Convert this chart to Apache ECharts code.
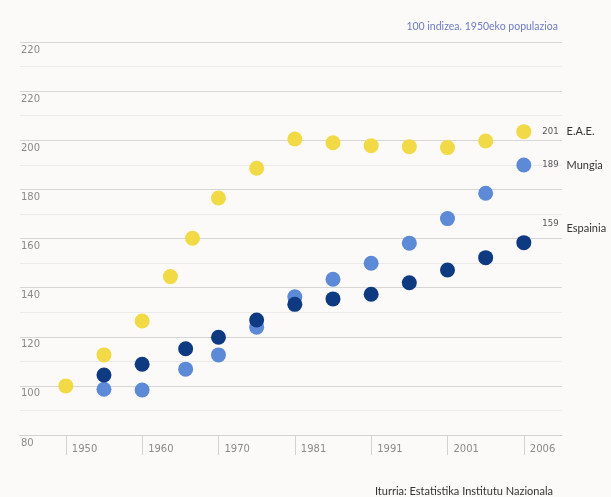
<!DOCTYPE html>
<html>
<head>
<meta charset="utf-8">
<script src="https://cdn.jsdelivr.net/npm/echarts@6/dist/echarts.min.js"></script>
<style>
  html, body { margin: 0; padding: 0; background: #fcfaf8; }
  #chart { width: 611px; height: 497px; }
</style>
</head>
<body>
<div id="chart"></div>
<script>
// ---- data ----
const xTickLabels = ['1950', '1960', '1970', '1981', '1991', '2001', '2006'];
const yTickLabels = ['80', '100', '120', '140', '160', '180', '200', '220', '220'];

// time position along the axis (1 unit = one labelled period)
const eaeT = [0, 0.5, 1, 1.37, 1.66, 2, 2.5, 3, 3.5, 4, 4.5, 5, 5.5, 6];
const eaeV = [100, 112.6, 126.4, 144.5, 160.1, 176.5, 188.6, 200.5, 199.0, 197.8, 197.4, 197.0, 199.7, 203.5];

const mungiaT = [0.5, 1, 1.57, 2, 2.5, 3, 3.5, 4, 4.5, 5, 5.5, 6];
const mungiaV = [98.6, 98.3, 106.8, 112.6, 123.9, 136.3, 143.4, 149.9, 158.1, 168.1, 178.4, 189.9];

const espainiaT = [0.5, 1, 1.57, 2, 2.5, 3, 3.5, 4, 4.5, 5, 5.5, 6];
const espainiaV = [104.4, 108.8, 115.1, 119.8, 126.8, 133.2, 135.4, 137.3, 142.0, 147.2, 152.2, 158.3];

const seriesNames = ['E.A.E.', 'Mungia', 'Espainia'];
const endValues = ['201', '189', '159'];

const subtitleText = '100 indizea. 1950eko populazioa';
const sourceText = 'Iturria: Estatistika Institutu Nazionala';

// ---- build ----
function buildData(ts, vs, idx, labelOffsetY, numRaise) {
  return ts.map((t, i) => {
    if (i < ts.length - 1) return [t, vs[i]];
    return {
      value: [t, vs[i]],
      label: {
        show: true,
        position: 'right',
        distance: 11,
        offset: [0, labelOffsetY],
        formatter: '{n|' + endValues[idx] + '}{s|' + seriesNames[idx] + '}',
        rich: {
          n: {
            fontFamily: 'DejaVu Sans', fontSize: 8.5, color: '#555',
            lineHeight: 14, verticalAlign: 'middle',
            padding: [0, 8, numRaise, 0]
          },
          s: {
            fontFamily: 'Lato', fontSize: 11, color: '#333',
            lineHeight: 14, verticalAlign: 'middle'
          }
        }
      }
    };
  });
}

const chart = echarts.init(document.getElementById('chart'), null, { renderer: 'canvas' });
chart.setOption({
  backgroundColor: '#fcfaf8',
  animation: false,
  title: [
    {
      text: subtitleText,
      right: 48, top: 16,
      textStyle: { fontFamily: 'Lato', fontSize: 10.5, fontWeight: 'normal', color: '#6d7cc4' }
    },
    {
      text: sourceText,
      right: 53, top: 481,
      textStyle: { fontFamily: 'Lato', fontSize: 11, fontWeight: 'normal', color: '#333' }
    }
  ],
  grid: { left: 20, right: 49, top: 42, bottom: 62 },
  xAxis: {
    type: 'value',
    min: -0.6,
    max: 6.5,
    axisLine: { show: true, lineStyle: { color: '#d2d2d2', width: 1 } },
    axisTick: {
      show: true,
      customValues: [0, 1, 2, 3, 4, 5, 6],
      length: 20,
      lineStyle: { color: '#d2d2d2', width: 1 }
    },
    axisLabel: {
      customValues: [0, 1, 2, 3, 4, 5, 6],
      formatter: v => xTickLabels[Math.round(v)],
      align: 'left',
      padding: [0, 0, 0, 6],
      margin: 9,
      fontFamily: 'DejaVu Sans',
      fontSize: 10,
      color: '#8a8a8a'
    },
    splitLine: { show: false }
  },
  yAxis: {
    type: 'value',
    min: 80,
    max: 240,
    interval: 20,
    axisLine: { show: false },
    axisTick: { show: false },
    minorTick: { show: false, splitNumber: 2 },
    minorSplitLine: { show: true, lineStyle: { color: '#ebebeb', width: 1 } },
    splitLine: { show: true, lineStyle: { color: '#d6d6d6', width: 1 } },
    axisLabel: {
      inside: true,
      margin: 1,
      align: 'left',
      verticalAlign: 'top',
      padding: [3, 0, 0, 0],
      formatter: v => yTickLabels[Math.round((v - 80) / 20)],
      fontFamily: 'DejaVu Sans',
      fontSize: 10,
      color: '#8a8a8a'
    }
  },
  series: [
    {
      name: seriesNames[0],
      type: 'scatter',
      symbolSize: 15,
      itemStyle: { color: '#f1da45', opacity: 1 },
      data: buildData(eaeT, eaeV, 0, 0, 0),
      z: 3
    },
    {
      name: seriesNames[1],
      type: 'scatter',
      symbolSize: 15,
      itemStyle: { color: '#5c8ad6', opacity: 1 },
      data: buildData(mungiaT, mungiaV, 1, 0, 0),
      z: 3
    },
    {
      name: seriesNames[2],
      type: 'scatter',
      symbolSize: 15,
      itemStyle: { color: '#0e3a82', opacity: 1 },
      data: buildData(espainiaT, espainiaV, 2, -14, 10),
      z: 4
    }
  ]
});
</script>
</body>
</html>
